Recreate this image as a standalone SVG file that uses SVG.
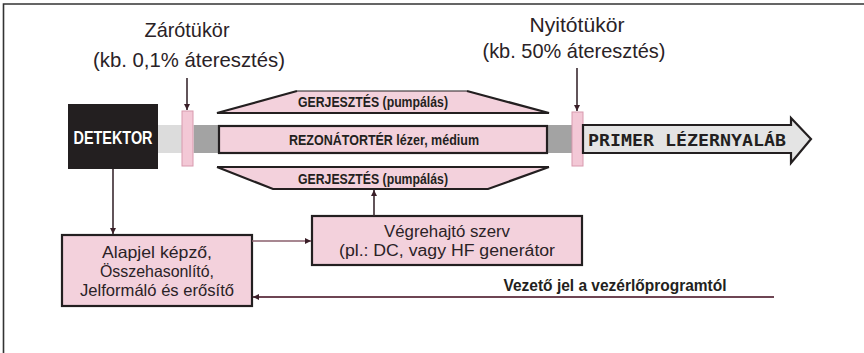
<svg xmlns="http://www.w3.org/2000/svg" width="864" height="353" viewBox="0 0 864 353">
<style>
.lbl{font-family:"Liberation Sans",Arial,sans-serif;fill:#2a2226}
.b{font-family:"Liberation Sans",Arial,sans-serif;font-weight:bold;fill:#231f20}
.pink{fill:#f3d1dc;stroke:#231f20;stroke-width:2.2}
.ln{stroke:#3a2a30;stroke-width:1.6;fill:none}
.lnp{stroke:#8a5f6c;stroke-width:1.6;fill:none}
</style>
<defs>
<marker id="ah" viewBox="0 0 10 10" refX="10" refY="5" markerWidth="6" markerHeight="6" orient="auto" markerUnits="userSpaceOnUse"><path d="M0,0 L10,5 L0,10 z" fill="#3a1f28"/></marker>
</defs>
<rect width="864" height="353" fill="#fff"/>
<path d="M3.5,353 V4 H864" fill="none" stroke="#333" stroke-width="1.6"/>

<g id="beam">
<rect x="158" y="125" width="36" height="28" fill="#dcdcdc"/>
<rect x="194" y="125" width="25" height="28" fill="#a3a3a3"/>
<rect x="547" y="125" width="27" height="28" fill="#a3a3a3"/>
</g>

<g id="detektor">
<rect x="68" y="104" width="90" height="65" fill="#231f20"/>
<text x="113" y="144" text-anchor="middle" font-family="Liberation Sans,Arial,sans-serif" font-weight="bold" font-size="18" fill="#fff" textLength="79" lengthAdjust="spacingAndGlyphs">DETEKTOR</text>
</g>

<g id="zarotukor">
<rect x="182" y="111" width="11" height="55" fill="#f3c8d6" stroke="#d89aae" stroke-width="1"/>
<text class="lbl" x="187" y="37" text-anchor="middle" font-size="21" textLength="85" lengthAdjust="spacingAndGlyphs">Zárótükör</text>
<text class="lbl" x="189" y="67" text-anchor="middle" font-size="21" textLength="192" lengthAdjust="spacingAndGlyphs">(kb. 0,1% áteresztés)</text>
</g>

<g id="gerj-top">
<polygon points="297,91 467,91 549,113 217,113" fill="#f3d1dc"/>
<path d="M297,91 H467" stroke="#231f20" stroke-width="1.2" fill="none"/>
<path d="M297,91 L217,113 H549 L467,91" stroke="#231f20" stroke-width="2.2" fill="none"/>
<text class="b" x="373" y="107" text-anchor="middle" font-size="15" textLength="150" lengthAdjust="spacingAndGlyphs">GERJESZTÉS (pumpálás)</text>
</g>

<g id="rezonator">
<rect class="pink" x="219" y="126" width="328" height="27"/>
<text class="b" x="384" y="145" text-anchor="middle" font-size="15" textLength="190" lengthAdjust="spacingAndGlyphs">REZONÁTORTÉR lézer, médium</text>
</g>

<g id="gerj-bottom">
<polygon points="217,167 549,167 488,189 273,189" fill="#f3d1dc"/>
<path d="M217,167 H549 M217,167 L273,189 H488 L549,167" stroke="#231f20" stroke-width="2.2" fill="none"/>
<text class="b" x="373" y="184" text-anchor="middle" font-size="15" textLength="150" lengthAdjust="spacingAndGlyphs">GERJESZTÉS (pumpálás)</text>
</g>

<g id="nyitotukor">
<rect x="572" y="112" width="11" height="54" fill="#f3c8d6" stroke="#d89aae" stroke-width="1"/>
<text class="lbl" x="577" y="32" text-anchor="middle" font-size="21" textLength="95" lengthAdjust="spacingAndGlyphs">Nyitótükör</text>
<text class="lbl" x="574" y="58" text-anchor="middle" font-size="21" textLength="183" lengthAdjust="spacingAndGlyphs">(kb. 50% áteresztés)</text>
</g>

<g id="primer">
<polygon points="583,125 791,125 791,118 811,139 791,163 791,153 583,153" fill="#e4e4e4" stroke="#231f20" stroke-width="2.2" stroke-linejoin="miter"/>
<text x="687" y="146" text-anchor="middle" font-family="DejaVu Sans Mono,Liberation Mono,monospace" font-weight="bold" font-size="16" fill="#231f20" textLength="198" lengthAdjust="spacingAndGlyphs">PRIMER LÉZERNYALÁB</text>
</g>

<g id="alapjel">
<rect class="pink" x="62" y="235" width="190" height="71" stroke-width="2.6"/>
<text class="lbl" x="157" y="258" text-anchor="middle" font-size="16.5" textLength="110" lengthAdjust="spacingAndGlyphs">Alapjel képző,</text>
<text class="lbl" x="157" y="277" text-anchor="middle" font-size="16.5" textLength="114" lengthAdjust="spacingAndGlyphs">Összehasonlító,</text>
<text class="lbl" x="157" y="296" text-anchor="middle" font-size="16.5" textLength="154" lengthAdjust="spacingAndGlyphs">Jelformáló és erősítő</text>
</g>

<g id="vegrehajto">
<rect class="pink" x="312" y="216" width="270" height="49" stroke-width="2.6"/>
<text class="lbl" x="447" y="237" text-anchor="middle" font-size="16" textLength="126" lengthAdjust="spacingAndGlyphs">Végrehajtó szerv</text>
<text class="lbl" x="447" y="256" text-anchor="middle" font-size="16" textLength="216" lengthAdjust="spacingAndGlyphs">(pl.: DC, vagy HF generátor</text>
</g>

<g id="vezeto-label">
<text class="b" x="615" y="291" text-anchor="middle" font-size="16" textLength="223" lengthAdjust="spacingAndGlyphs">Vezető jel a vezérlőprogramtól</text>
</g>

<g id="connectors">
<path class="ln" d="M187,78 V110" marker-end="url(#ah)"/>
<path class="ln" d="M577,68 V111" marker-end="url(#ah)"/>
<path class="ln" d="M113,169 V234" marker-end="url(#ah)"/>
<path class="lnp" d="M252,241 H311" marker-end="url(#ah)"/>
<path class="ln" d="M374,216 V190" marker-end="url(#ah)"/>
<path d="M774,297 H253" stroke="#6e4553" stroke-width="2.2" fill="none" marker-end="url(#ah)"/>
</g>
</svg>
